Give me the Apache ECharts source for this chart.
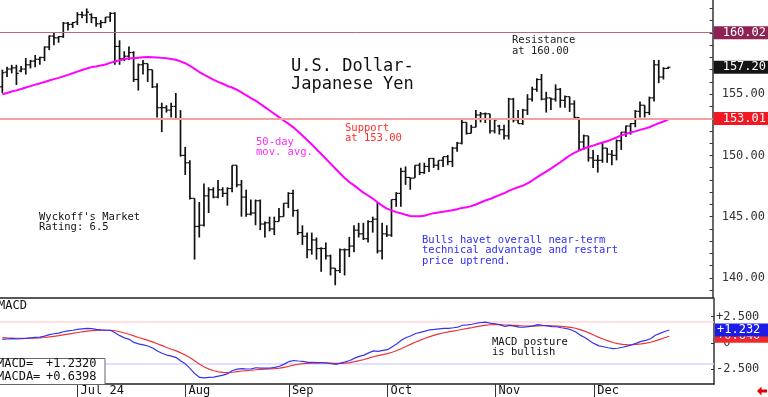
<!DOCTYPE html>
<html>
<head>
<meta charset="utf-8">
<title>U.S. Dollar-Japanese Yen</title>
<script src="https://cdn.jsdelivr.net/npm/echarts@6/dist/echarts.min.js"></script>
<style>
  html, body { margin: 0; padding: 0; background: #fff; }
  #chart { width: 768px; height: 397px; }
</style>
</head>
<body>
<div id="chart"></div>
<script>
// trading days shown (2024, MM-DD)
const dates = [
  '06-07', '06-10', '06-11', '06-12', '06-13', '06-14', '06-17', '06-18', '06-19', '06-20', '06-21', '06-24', '06-25', '06-26', '06-27', '06-28',
  '07-01', '07-02', '07-03', '07-04', '07-05', '07-08', '07-09', '07-10', '07-11', '07-12', '07-15', '07-16', '07-17', '07-18', '07-19', '07-22', '07-23', '07-24', '07-25', '07-26', '07-29', '07-30', '07-31',
  '08-01', '08-02', '08-05', '08-06', '08-07', '08-08', '08-09', '08-12', '08-13', '08-14', '08-15', '08-16', '08-19', '08-20', '08-21', '08-22', '08-23', '08-26', '08-27', '08-28', '08-29', '08-30',
  '09-02', '09-03', '09-04', '09-05', '09-06', '09-09', '09-10', '09-11', '09-12', '09-13', '09-16', '09-17', '09-18', '09-19', '09-20', '09-23', '09-24', '09-25', '09-26', '09-27', '09-30',
  '10-01', '10-02', '10-03', '10-04', '10-07', '10-08', '10-09', '10-10', '10-11', '10-14', '10-15', '10-16', '10-17', '10-18', '10-21', '10-22', '10-23', '10-24', '10-25', '10-28', '10-29', '10-30', '10-31',
  '11-01', '11-04', '11-05', '11-06', '11-07', '11-08', '11-11', '11-12', '11-13', '11-14', '11-15', '11-18', '11-19', '11-20', '11-21', '11-22', '11-25', '11-26', '11-27', '11-28', '11-29',
  '12-02', '12-03', '12-04', '12-05', '12-06', '12-09', '12-10', '12-11', '12-12', '12-13', '12-16', '12-17', '12-18', '12-19', '12-20', '12-23', '12-24'
];
// empty sessions to the right of the last bar
const padDates = ['12-25', '12-26', '12-27', '12-30', '12-31', '01-01', '01-02', '01-03', '01-06'];

const opens = [
  155.6, 156.8, 157.05, 157.15, 156.9, 157.05, 157.4, 157.7, 157.85, 158.0, 158.85, 159.75, 159.6, 159.7, 160.8, 160.7,
  160.9, 161.5, 161.45, 161.5, 161.25, 160.75, 160.85, 161.3, 161.6, 158.9, 157.9, 158.1, 158.4, 156.2, 157.4, 157.5, 157.0, 155.6, 153.9, 153.9, 153.7, 154.0, 153.0,
  150.0, 149.4, 146.5, 144.2, 144.3, 146.7, 147.2, 146.6, 147.2, 146.9, 147.3, 149.2, 147.6, 146.6, 145.2, 145.3, 146.3, 144.4, 144.5, 144.0, 144.6, 145.0,
  146.1, 146.9, 145.5, 143.7, 143.4, 142.3, 143.1, 142.4, 142.4, 141.8, 140.8, 140.6, 142.3, 142.3, 142.6, 143.9, 143.6, 143.2, 144.6, 144.8, 142.2,
  143.6, 143.5, 146.4, 146.9, 148.7, 148.2, 148.15, 149.2, 148.6, 149.1, 149.75, 149.2, 149.6, 149.9, 149.5, 150.6, 151.0, 152.7, 151.8, 152.3, 153.3, 153.4, 153.4,
  152.0, 152.4, 152.1, 151.6, 154.6, 152.9, 152.6, 153.7, 154.6, 155.4, 156.2, 154.6, 154.7, 154.6, 155.4, 154.5, 154.8, 154.2, 153.1, 151.1, 151.6,
  149.8, 149.6, 149.6, 150.6, 150.1, 150.0, 151.2, 151.9, 152.4, 152.6, 153.6, 154.1, 153.5, 154.7, 157.4, 156.4, 157.1
];
const highs = [
  157.0, 157.25, 157.4, 157.4, 157.3, 157.95, 157.8, 158.2, 158.05, 158.9, 159.8, 160.0, 159.75, 160.9, 160.9, 160.9,
  161.7, 161.75, 162.0, 161.6, 161.3, 161.05, 161.3, 161.7, 161.7, 159.4, 158.5, 158.9, 158.5, 157.5, 157.8, 157.5, 157.0, 155.9, 154.3, 154.1, 154.3, 155.1, 153.7,
  150.7, 149.6, 146.5, 146.2, 147.7, 147.4, 147.4, 148.0, 147.4, 147.4, 149.2, 149.2, 148.0, 147.2, 146.4, 146.4, 146.4, 144.6, 145.0, 145.0, 145.7, 146.1,
  147.0, 147.2, 145.6, 144.3, 143.7, 143.7, 143.3, 142.5, 142.9, 141.9, 140.8, 142.4, 142.4, 143.35, 144.3, 144.5, 144.5, 144.7, 145.0, 146.2, 144.5,
  144.3, 146.4, 147.0, 149.0, 149.1, 148.2, 149.2, 149.4, 149.4, 149.8, 149.8, 149.6, 149.9, 150.04, 150.7, 151.1, 153.06, 152.7, 152.5, 153.7, 153.55, 153.5, 153.4,
  152.9, 152.5, 152.5, 154.7, 154.7, 153.7, 153.8, 155.0, 155.6, 156.3, 156.65, 155.2, 154.7, 155.8, 155.5, 154.9, 154.8, 154.5, 153.1, 151.7, 151.6,
  150.45, 150.04, 151.0, 150.6, 150.45, 151.3, 151.9, 152.45, 152.65, 153.7, 154.4, 154.1, 154.8, 157.8, 157.8, 157.2, 157.25
];
const lows = [
  155.1, 156.4, 156.7, 155.75, 156.8, 156.6, 157.1, 157.2, 157.4, 157.7, 158.6, 159.0, 159.2, 159.6, 160.2, 160.4,
  160.65, 161.2, 160.8, 160.8, 160.5, 160.4, 160.8, 160.9, 157.4, 157.4, 157.7, 157.8, 156.0, 155.3, 156.6, 156.0, 155.5, 153.1, 151.9, 153.5, 153.1, 152.9, 149.9,
  148.4, 146.4, 141.5, 143.3, 144.2, 145.3, 146.5, 146.5, 146.6, 145.9, 147.0, 147.4, 145.0, 145.0, 145.1, 144.3, 143.9, 143.3, 143.8, 143.5, 144.6, 145.0,
  145.7, 145.0, 143.5, 142.7, 141.6, 141.9, 141.5, 140.5, 141.5, 140.2, 139.4, 140.4, 140.2, 141.7, 142.1, 143.3, 143.1, 142.9, 143.7, 142.0, 141.5,
  143.35, 143.35, 145.8, 145.8, 147.6, 147.2, 148.15, 148.4, 148.5, 148.65, 148.98, 148.8, 149.06, 149.2, 149.06, 150.3, 150.9, 151.7, 151.8, 152.3, 152.7, 152.65, 151.8,
  151.8, 151.7, 151.3, 151.3, 152.7, 152.6, 152.5, 153.3, 154.4, 155.2, 154.5, 153.5, 153.7, 154.4, 153.9, 153.9, 153.55, 153.06, 150.45, 150.45, 149.5,
  148.98, 148.6, 149.4, 149.4, 149.2, 149.6, 150.45, 151.5, 151.7, 152.3, 153.1, 153.1, 153.3, 154.4, 155.9, 156.2, 157.05
];
const closes = [
  156.75, 157.05, 157.15, 156.7, 157.05, 157.4, 157.7, 157.85, 158.0, 158.85, 159.75, 159.6, 159.7, 160.8, 160.7, 160.85,
  161.5, 161.45, 161.7, 161.25, 160.75, 160.85, 161.3, 161.6, 158.9, 157.9, 158.1, 158.4, 156.2, 157.4, 157.5, 157.0, 155.6, 153.9, 153.9, 153.7, 154.0, 153.0, 150.0,
  149.4, 146.5, 144.2, 144.3, 146.7, 147.2, 146.6, 147.2, 146.9, 147.3, 149.2, 147.6, 146.6, 145.2, 145.3, 146.3, 144.4, 144.5, 144.0, 144.6, 145.0, 146.1,
  146.9, 145.5, 143.7, 143.4, 142.3, 143.1, 142.4, 142.4, 141.8, 140.8, 140.6, 142.3, 142.3, 142.6, 143.9, 143.6, 143.2, 144.6, 144.8, 142.2, 143.6,
  143.5, 146.4, 146.9, 148.7, 148.2, 148.15, 149.2, 148.6, 149.1, 149.75, 149.2, 149.6, 149.9, 149.5, 150.6, 151.0, 152.7, 151.8, 152.3, 153.3, 153.4, 153.4, 152.0,
  152.9, 152.1, 151.6, 154.6, 152.9, 152.6, 153.7, 154.6, 155.4, 156.2, 154.6, 154.7, 154.6, 155.4, 154.5, 154.8, 154.2, 153.1, 151.1, 151.6, 149.8,
  149.6, 149.6, 150.6, 150.1, 150.0, 151.2, 151.9, 152.4, 152.6, 153.6, 154.1, 153.5, 154.7, 157.4, 156.4, 157.1, 157.2
];
// closes before the first bar shown (Apr 1 - Jun 6), to start the averages
const priorCloses = [
  151.65, 151.55, 151.65, 151.35, 151.6, 151.85, 151.75, 153.15, 153.25, 153.25, 154.25, 154.65, 154.4, 154.6, 154.6,
  154.8, 154.8, 155.35, 155.6, 158.3, 156.35, 157.8, 155.0, 153.0, 152.95, 153.9, 154.65, 155.55, 155.45, 155.75,
  156.2, 156.45, 154.9, 155.4, 155.65, 156.25, 156.2, 156.8, 156.95, 156.95, 156.9, 157.15, 157.6, 156.8, 157.3,
  156.1, 154.8, 156.1, 155.6
];

const monthLabels = { '07-01': 'Jul 24', '08-01': 'Aug', '09-02': 'Sep', '10-01': 'Oct', '11-01': 'Nov', '12-02': 'Dec' };
const priceLabels = [140, 145, 150, 155];
const macdLabels = [2.5, 0, -2.5];
const resistance = 160.02;
const support = 153.01;
const lastPrice = 157.20;
const macdLast = 1.2320;
const macdaLast = 0.6398;

const MONO = '"DejaVu Sans Mono", monospace';
const CLEAR = 'rgba(0,0,0,0)';

// averages
const allCloses = priorCloses.concat(closes);
const n0 = priorCloses.length;
const ema = (arr, p) => {
  const k = 2 / (p + 1);
  let e = arr[0];
  return arr.map((v, i) => (i === 0 ? e : (e = v * k + e * (1 - k))));
};
const ma50 = closes.map((c, i) => {
  const part = allCloses.slice(n0 + i - 49, n0 + i + 1);
  return +(part.reduce((a, b) => a + b, 0) / part.length).toFixed(3);
});
const e12 = ema(allCloses, 12);
const e26 = ema(allCloses, 26);
const macdAll = e12.map((v, i) => v - e26[i]);
const sigAll = ema(macdAll, 9);
const macd = macdAll.slice(n0).map(v => +v.toFixed(4));
const macda = sigAll.slice(n0).map(v => +v.toFixed(4));

const cats = dates.concat(padDates);
const bars = closes.map((c, i) => [i, opens[i], highs[i], lows[i], c]);

const isMonth = (i, v) => monthLabels[v] !== undefined;
const signed = (v, d) => (v >= 0 ? '+' : '') + v.toFixed(d);

const tag = (bg, pad, text) => ({
  show: true, position: 'end', distance: 1, color: '#fff', backgroundColor: bg,
  fontFamily: MONO, fontSize: 12, lineHeight: 12, padding: pad, formatter: () => text
});

const renderBar = (params, api) => {
  const i = api.value(0);
  const o = api.coord([i, api.value(1)]);
  const h = api.coord([i, api.value(2)]);
  const l = api.coord([i, api.value(3)]);
  const c = api.coord([i, api.value(4)]);
  const tick = { stroke: '#111', lineWidth: 1.2 };
  return {
    type: 'group',
    children: [
      { type: 'line', shape: { x1: h[0], y1: h[1], x2: l[0], y2: l[1] }, style: { stroke: '#111', lineWidth: 1.7 } },
      { type: 'line', shape: { x1: o[0] - 2.3, y1: o[1], x2: o[0], y2: o[1] }, style: tick },
      { type: 'line', shape: { x1: c[0], y1: c[1], x2: c[0] + 2.3, y2: c[1] }, style: tick }
    ]
  };
};

const chart = echarts.init(document.getElementById('chart'));

const textEl = (left, top, text, fill, size, lh) => ({
  type: 'text', left, top, z: 10,
  style: { text, fill, font: size + 'px ' + MONO, lineHeight: lh }
});

chart.setOption({
  animation: false,
  backgroundColor: '#fff',
  grid: [
    { left: 0, top: 0, width: 714, height: 298 },
    { left: 0, top: 298, width: 714, height: 86 }
  ],
  xAxis: [
    {
      type: 'category', gridIndex: 0, data: cats, boundaryGap: true,
      axisLine: { onZero: false, lineStyle: { color: '#222', width: 1.5 } },
      axisTick: { show: false }, axisLabel: { show: false }, splitLine: { show: false }
    },
    {
      type: 'category', gridIndex: 1, data: cats, boundaryGap: true,
      axisLine: { onZero: false, lineStyle: { color: '#222', width: 1.5 } },
      axisTick: { show: true, alignWithLabel: true, interval: isMonth, length: 13, lineStyle: { color: '#333' } },
      axisLabel: {
        interval: isMonth, formatter: v => monthLabels[v] || '', align: 'left',
        margin: 1, padding: [0, 0, 0, 3], color: '#111', fontFamily: MONO, fontSize: 12
      },
      splitLine: { show: false }
    }
  ],
  yAxis: [
    {
      type: 'value', gridIndex: 0, position: 'right', min: 138.36, max: 162.69, scale: true,
      axisLine: { show: true, lineStyle: { color: '#333', width: 1.5 } },
      axisTick: { show: true, inside: true, length: 3, customValues: [139, 140, 141, 142, 143, 144, 145, 146, 147, 148, 149, 150, 151, 152, 153, 154, 155, 156, 157, 158, 159, 160, 161, 162], lineStyle: { color: '#333' } },
      axisLabel: { customValues: priceLabels, formatter: v => v.toFixed(2), margin: 9, color: '#333', fontFamily: MONO, fontSize: 12 },
      splitLine: { show: false }
    },
    {
      type: 'value', gridIndex: 1, position: 'right', min: -3.94, max: 4.29,
      axisLine: { show: true, lineStyle: { color: '#333', width: 1.5 } },
      axisTick: { show: true, inside: true, length: 3, customValues: [-2.5, 0, 2.5], lineStyle: { color: '#333' } },
      axisLabel: {
        customValues: macdLabels, margin: 2, color: '#333', fontFamily: MONO, fontSize: 12,
        formatter: v => (v > 0 ? '+' + v.toFixed(3) : v < 0 ? v.toFixed(3) : ' 0')
      },
      splitLine: { show: false }
    }
  ],
  series: [
    {
      type: 'custom', name: 'USD/JPY', xAxisIndex: 0, yAxisIndex: 0,
      data: bars, encode: { x: 0, y: [1, 2, 3, 4] }, renderItem: renderBar, z: 3
    },
    {
      type: 'line', name: '50-day', xAxisIndex: 0, yAxisIndex: 0, data: ma50,
      symbol: 'none', lineStyle: { color: '#ff00ff', width: 2 }, z: 4,
      markLine: {
        silent: true, symbol: ['none', 'none'], precision: 4,
        data: [
          { yAxis: resistance, lineStyle: { color: '#b8668a', width: 1, type: 'solid' },
            label: tag('#8c2352', [1, 10, 0, 9], resistance.toFixed(2)) },
          { yAxis: support, lineStyle: { color: '#f5a0a0', width: 2, type: 'solid' },
            label: tag('#f01822', [1, 10, 0, 9], support.toFixed(2)) },
          { yAxis: lastPrice, lineStyle: { color: CLEAR, width: 1, type: 'solid' },
            label: tag('#151515', [1, 10, 0, 9], lastPrice.toFixed(2)) }
        ]
      }
    },
    {
      type: 'line', name: 'MACDA', xAxisIndex: 1, yAxisIndex: 1, data: macda,
      symbol: 'none', lineStyle: { color: '#f03434', width: 1.2 },
      markLine: {
        silent: true, symbol: ['none', 'none'], z: 1, precision: 4,
        data: [
          { yAxis: 2, lineStyle: { color: '#ffd4d4', width: 1.5, type: 'solid' }, label: { show: false } },
          { yAxis: -2, lineStyle: { color: '#d6d6ff', width: 1.5, type: 'solid' }, label: { show: false } },
          { yAxis: macdaLast, lineStyle: { color: CLEAR, width: 1, type: 'solid' },
            label: tag('#f02828', [1, 10, 0, 2], signed(macdaLast, 3)) }
        ]
      }
    },
    {
      type: 'line', name: 'MACD', xAxisIndex: 1, yAxisIndex: 1, data: macd,
      symbol: 'none', lineStyle: { color: '#3434f0', width: 1.2 },
      markLine: {
        silent: true, symbol: ['none', 'none'], precision: 4,
        data: [
          { yAxis: macdLast, lineStyle: { color: CLEAR, width: 1, type: 'solid' },
            label: tag('#1c1ce6', [1, 10, 0, 2], signed(macdLast, 3)) }
        ]
      }
    }
  ],
  graphic: [
    textEl(291, 58, 'U.S. Dollar-\nJapanese Yen', '#111', 17, 18),
    textEl(512, 35, 'Resistance\nat 160.00', '#222', 10.5, 11),
    textEl(345, 122.5, 'Support\nat 153.00', '#ff2a2a', 10.5, 10.5),
    textEl(256, 136.5, '50-day\nmov. avg.', '#ff2aff', 10.5, 10.5),
    textEl(39, 211.3, 'Wyckoff\'s Market\nRating: 6.5', '#111', 10.5, 10.6),
    textEl(422, 234.7, 'Bulls havet overall near-term\ntechnical advantage and restart\nprice uptrend.', '#2f2ff5', 10.5, 10.5),
    textEl(492, 336.4, 'MACD posture\nis bullish', '#111', 10.5, 10.6),
    textEl(-2, 300, 'MACD', '#111', 12, 12),
    {
      type: 'rect', z: 9, shape: { x: -1, y: 358.5, width: 106, height: 26 },
      style: { fill: '#fff', stroke: '#666', lineWidth: 1 }
    },
    textEl(-3, 357, 'MACD=\nMACDA=', '#111', 12, 13.3),
    textEl(46, 357, signed(macdLast, 4) + '\n' + signed(macdaLast, 4), '#111', 12, 13.3),
    {
      type: 'polygon', z: 10,
      shape: { points: [[757, 391], [761.5, 386.5], [761.5, 389.5], [767, 389.5], [767, 392.5], [761.5, 392.5], [761.5, 395.5]] },
      style: { fill: '#e60000' }
    }
  ]
});
</script>
</body>
</html>
